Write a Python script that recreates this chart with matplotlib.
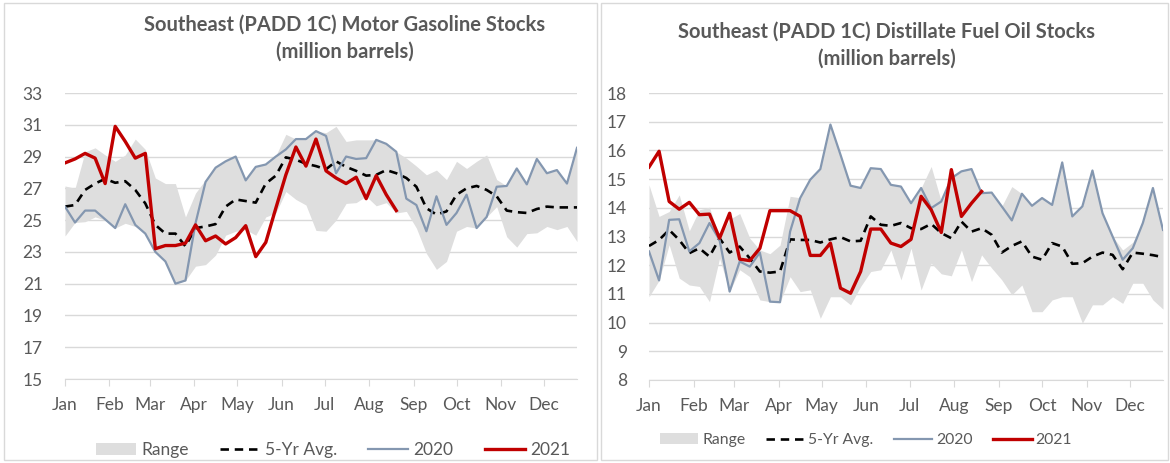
import numpy as np
import matplotlib
matplotlib.use("Agg")
import matplotlib.pyplot as plt
from matplotlib.patches import Rectangle

plt.rcParams['font.family'] = ['Lato', 'DejaVu Sans']

# weekly points, day of year
weeks = np.arange(52) * 7
month_days = [0, 31, 59, 90, 120, 151, 181, 212, 243, 273, 304, 334]
month_names = ["Jan", "Feb", "Mar", "Apr", "May", "Jun",
               "Jul", "Aug", "Sep", "Oct", "Nov", "Dec"]

# Motor gasoline (million barrels)
gas_hi = [27.15, 27.0, 29.3, 29.55, 29.1, 28.7, 29.1, 30.1, 29.45, 27.65,
          27.3, 27.3, 25.2, 26.7, 27.55, 28.3, 28.7, 29.0, 27.55, 28.35,
          28.5, 29.05, 30.4, 30.1, 30.1, 30.6, 30.5, 30.9, 29.95, 30.05,
          30.05, 30.05, 29.8, 29.3, 28.9, 28.4, 27.85, 28.15, 27.55, 28.7,
          28.25, 28.7, 29.1, 27.55, 27.15, 28.25, 27.25, 28.85, 27.95, 28.15,
          27.3, 29.55]
gas_lo = [24.0, 24.85, 24.9, 25.2, 25.0, 24.5, 24.8, 24.6, 24.15, 23.0,
          22.4, 21.0, 21.2, 22.1, 22.2, 22.8, 24.05, 24.3, 24.4, 24.05,
          25.2, 25.45, 26.8, 26.3, 25.95, 24.35, 24.3, 25.0, 26.05, 26.1,
          26.5, 25.9, 26.1, 25.45, 25.55, 24.5, 22.9, 21.9, 22.4, 24.3,
          24.6, 24.5, 25.2, 25.85, 23.95, 23.3, 24.15, 24.2, 24.6, 24.4,
          24.6, 23.65]
gas_avg = [25.85, 25.95, 26.9, 27.3, 27.6, 27.35, 27.45, 26.9, 26.05, 24.7,
           24.15, 24.15, 23.35, 24.5, 24.6, 24.75, 25.85, 26.3, 26.2, 26.1,
           27.3, 27.8, 28.95, 28.8, 28.55, 28.4, 28.2, 28.7, 28.35, 28.1,
           27.8, 27.85, 28.15, 27.95, 27.65, 27.1, 25.75, 25.35, 25.55, 26.6,
           27.0, 27.15, 26.9, 26.5, 25.6, 25.5, 25.45, 25.7, 25.85, 25.8,
           25.8, 25.8]
gas_2020 = [25.85, 24.85, 25.6, 25.6, 25.05, 24.5, 26.0, 24.7, 24.15, 23.0,
            22.4, 21.0, 21.2, 24.8, 27.4, 28.3, 28.7, 29.0, 27.5, 28.35,
            28.5, 29.0, 29.45, 30.1, 30.1, 30.6, 30.3, 27.95, 29.0, 28.85,
            28.9, 30.05, 29.8, 29.3, 26.35, 25.95, 24.3, 26.5, 24.7, 25.45,
            26.6, 24.5, 25.2, 27.1, 27.15, 28.25, 27.25, 28.85, 27.95, 28.15,
            27.3, 29.55]
gas_2021 = [28.6, 28.85, 29.2, 28.9, 27.3, 30.9, 29.95, 28.9, 29.2, 23.2,
            23.4, 23.4, 23.55, 24.7, 23.7, 24.0, 23.5, 23.9, 24.65, 22.7,
            23.6, 25.75, 27.85, 29.6, 28.4, 30.1, 28.1, 27.65, 27.3, 27.7,
            26.35, 27.8, 26.6, 25.6]

# Distillate fuel oil (million barrels)
dist_hi = [14.8, 13.7, 13.87, 14.45, 13.2, 13.93, 14.02, 12.94, 13.6, 13.8,
           12.94, 12.53, 12.4, 12.7, 14.4, 14.35, 14.98, 15.35, 16.9, 15.85,
           14.77, 14.69, 15.38, 15.35, 14.8, 14.74, 14.16, 14.69, 15.44, 14.22,
           15.03, 15.27, 15.35, 14.51, 14.53, 14.05, 14.74, 14.49, 14.07, 14.34,
           14.1, 15.58, 13.7, 14.05, 15.3, 13.81, 13.0, 12.53, 12.8, 13.47,
           14.69, 13.23]
dist_lo = [10.9, 11.47, 12.71, 11.55, 11.31, 11.26, 10.73, 12.24, 11.08, 11.84,
           11.6, 10.79, 10.73, 10.71, 11.6, 11.08, 11.14, 10.15, 10.9, 10.9,
           10.62, 11.26, 11.78, 11.84, 12.53, 11.49, 12.59, 11.14, 12.07, 11.7,
           11.63, 12.53, 11.43, 12.36, 11.9, 11.49, 10.97, 11.31, 10.38, 10.38,
           10.79, 10.9, 10.9, 9.98, 10.62, 10.62, 10.9, 10.67, 11.37, 11.37,
           10.79, 10.47]
dist_avg = [12.67, 12.88, 13.23, 12.88, 12.42, 12.59, 12.3, 12.94, 12.44, 12.65,
            12.24, 11.78, 11.74, 11.78, 12.9, 12.88, 12.88, 12.79, 12.9, 12.98,
            12.83, 12.85, 13.7, 13.41, 13.37, 13.47, 13.29, 13.26, 13.44, 13.12,
            12.94, 13.52, 13.17, 13.29, 13.06, 12.44, 12.67, 12.83, 12.3, 12.19,
            12.77, 12.65, 12.05, 12.07, 12.3, 12.44, 12.36, 11.86, 12.44, 12.4,
            12.35, 12.28]
dist_2020 = [12.48, 11.47, 13.58, 13.6, 12.48, 12.77, 13.47, 12.88, 11.08, 12.13,
             11.95, 12.44, 10.73, 10.71, 13.17, 14.34, 14.98, 15.35, 16.9, 15.85,
             14.77, 14.69, 15.38, 15.35, 14.8, 14.74, 14.16, 14.69, 13.99, 14.22,
             15.03, 15.27, 15.35, 14.51, 14.53, 14.05, 13.56, 14.49, 14.07, 14.34,
             14.1, 15.58, 13.7, 14.05, 15.3, 13.81, 13.0, 12.19, 12.59, 13.47,
             14.69, 13.23]
dist_2021 = [15.42, 15.97, 14.22, 13.95, 14.19, 13.76, 13.78, 12.94, 13.81, 12.21,
             12.16, 12.59, 13.9, 13.9, 13.9, 13.7, 12.34, 12.34, 12.77, 11.2,
             11.02, 11.78, 13.26, 13.26, 12.77, 12.65, 12.9, 14.4, 13.93, 13.14,
             15.33, 13.7, 14.16, 14.57]

text_col = "#595959"
grid_col = "#d9d9d9"

fig = plt.figure(figsize=(11.7, 4.63), dpi=100)

# panel borders
fig.patches.append(Rectangle((4 / 1170, 3 / 463), 593 / 1170, 457 / 463,
                             transform=fig.transFigure, fill=False,
                             edgecolor=grid_col, linewidth=1))
fig.patches.append(Rectangle((601 / 1170, 3 / 463), 567 / 1170, 457 / 463,
                             transform=fig.transFigure, fill=False,
                             edgecolor=grid_col, linewidth=1))


def draw(ax, hi, lo, avg, y20, y21, yticks, title, tx, ty):
    ax.fill_between(weeks, lo, hi, color="#dedede", linewidth=0, label="Range")
    ax.plot(weeks, avg, color="black", linestyle=(0, (3.2, 2.2)),
            linewidth=1.9, label="5-Yr Avg.")
    ax.plot(weeks, y20, color="#8497b0", linewidth=1.6, label="2020")
    ax.plot(weeks[:len(y21)], y21, color="#c00000", linewidth=2.4, label="2021")
    ax.set_xlim(0, 357)
    ax.set_ylim(yticks[0], yticks[-1])
    ax.set_yticks(yticks)
    ax.set_xticks(month_days)
    ax.set_xticklabels(month_names)
    ax.grid(axis="y", color=grid_col, linewidth=1)
    ax.set_axisbelow(True)
    for s in ["left", "right", "top"]:
        ax.spines[s].set_visible(False)
    ax.spines["bottom"].set_color(grid_col)
    ax.tick_params(axis="y", length=0, pad=16, labelsize=12.5, labelcolor=text_col)
    ax.tick_params(axis="x", length=5, color=grid_col, pad=8,
                   labelsize=12.5, labelcolor=text_col)
    fig.text(tx, ty, title, ha="center", va="center", fontsize=14.5,
             fontweight="bold", color=text_col, linespacing=1.45)
    return ax


ax1 = fig.add_axes([65 / 1170, 84 / 463, 512 / 1170, 286 / 463])
draw(ax1, gas_hi, gas_lo, gas_avg, gas_2020, gas_2021, list(range(15, 34, 2)),
     "Southeast (PADD 1C) Motor Gasoline Stocks\n(million barrels)",
     345 / 1170, 1 - 38 / 463)

ax2 = fig.add_axes([649 / 1170, 83 / 463, 514 / 1170, 287 / 463])
draw(ax2, dist_hi, dist_lo, dist_avg, dist_2020, dist_2021, list(range(8, 19)),
     "Southeast (PADD 1C) Distillate Fuel Oil Stocks\n(million barrels)",
     887 / 1170, 1 - 45 / 463)

h, l = ax1.get_legend_handles_labels()
fig.legend(h, l, bbox_to_anchor=(333 / 1170, 1 - 450 / 463), loc="center",
           ncol=4, frameon=False, fontsize=12.5, labelcolor=text_col,
           handlelength=2.3, handletextpad=0.3, columnspacing=1.8)
fig.legend(h, l, bbox_to_anchor=(866 / 1170, 1 - 440 / 463), loc="center",
           ncol=4, frameon=False, fontsize=11.3, labelcolor=text_col,
           handlelength=2.45, handletextpad=0.25, columnspacing=1.3)

plt.savefig("out.png", dpi=100)
